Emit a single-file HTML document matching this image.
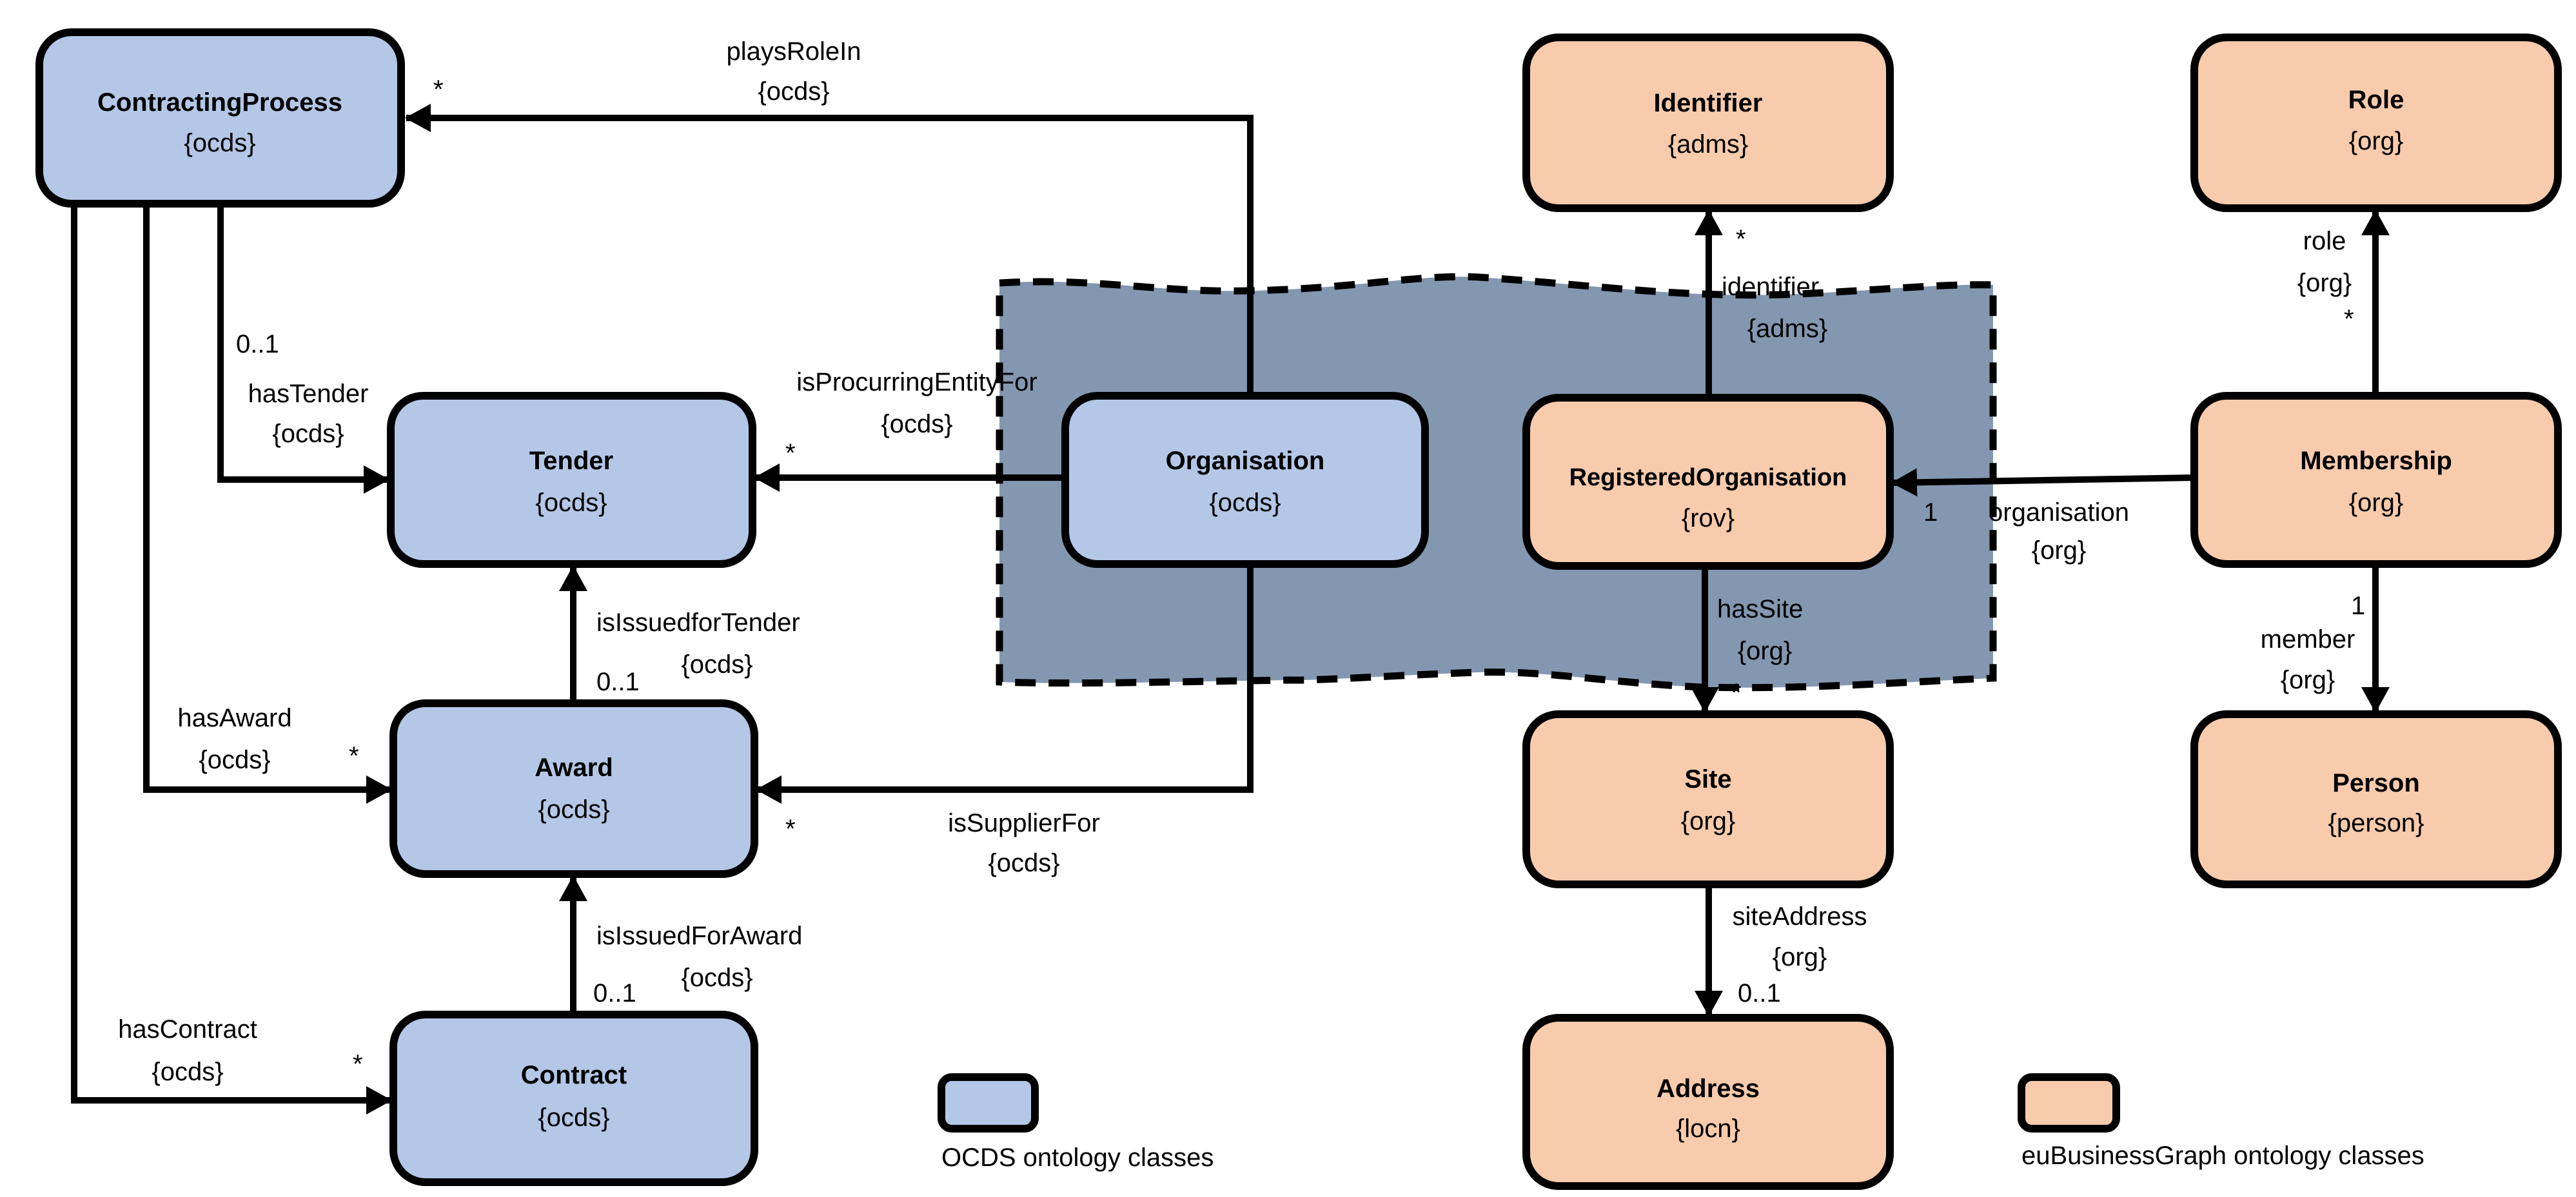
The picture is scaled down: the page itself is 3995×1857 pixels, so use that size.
<!DOCTYPE html>
<html><head><meta charset="utf-8"><style>
html,body{margin:0;padding:0;background:#fff}
svg{display:block}
text{font-family:"Liberation Sans",sans-serif;font-size:40px;fill:#000;dominant-baseline:central}
.b{font-weight:bold}
</style></head><body>
<svg width="3995" height="1857" viewBox="0 0 3995 1857" xmlns="http://www.w3.org/2000/svg">
<defs>
<marker id="a" markerUnits="userSpaceOnUse" markerWidth="40" markerHeight="44" refX="38" refY="22" orient="auto">
<path d="M0,0 L40,22 L0,44 Z" fill="#000"/></marker>
</defs>
<!-- grouping region -->
<path d="M1550,439 C1700,430 1800,455 1939,451 C2100,448 2200,425 2293,430 C2450,440 2600,462 2765,457 C2900,452 3000,440 3091,442 L3091,1052 C2950,1058 2800,1070 2638,1066 C2500,1060 2400,1040 2293,1043 C2150,1048 2050,1056 2000,1055 C1800,1058 1650,1062 1550,1058 Z" fill="#8497b0" stroke="#000" stroke-width="11" stroke-dasharray="32 20"/>
<g stroke="#000" stroke-width="10" fill="none">
<!-- playsRoleIn -->
<polyline points="1939,614 1939,183 630,183" marker-end="url(#a)"/>
<!-- hasTender -->
<polyline points="342,316 342,744 602,744" marker-end="url(#a)"/>
<!-- hasAward -->
<polyline points="227,316 227,1225 606,1225" marker-end="url(#a)"/>
<!-- hasContract -->
<polyline points="115,316 115,1707 606,1707" marker-end="url(#a)"/>
<!-- isProcuringEntityFor -->
<line x1="1652" y1="741" x2="1171" y2="741" marker-end="url(#a)"/>
<!-- isSupplierFor -->
<polyline points="1939,875 1939,1225 1174,1225" marker-end="url(#a)"/>
<!-- isIssuedforTender -->
<line x1="889" y1="1091" x2="889" y2="879" marker-end="url(#a)"/>
<!-- isIssuedForAward -->
<line x1="889" y1="1574" x2="889" y2="1360" marker-end="url(#a)"/>
<!-- identifier -->
<line x1="2650" y1="617" x2="2650" y2="327" marker-end="url(#a)"/>
<!-- role -->
<line x1="3684" y1="614" x2="3684" y2="327" marker-end="url(#a)"/>
<!-- organisation -->
<line x1="3403" y1="741" x2="2935" y2="749" marker-end="url(#a)"/>
<!-- hasSite -->
<line x1="2644" y1="878" x2="2644" y2="1104" marker-end="url(#a)"/>
<!-- member -->
<line x1="3684" y1="875" x2="3684" y2="1104" marker-end="url(#a)"/>
<!-- siteAddress -->
<line x1="2650" y1="1372" x2="2650" y2="1575" marker-end="url(#a)"/>
</g>
<g stroke="#000" stroke-width="12">
<rect x="61" y="50" width="561" height="266" rx="50" fill="#b4c7e7"/>
<rect x="606" y="614" width="561" height="261" rx="50" fill="#b4c7e7"/>
<rect x="1652" y="614" width="558" height="261" rx="50" fill="#b4c7e7"/>
<rect x="610" y="1091" width="560" height="265" rx="50" fill="#b4c7e7"/>
<rect x="610" y="1574" width="560" height="260" rx="50" fill="#b4c7e7"/>
<rect x="2367" y="58" width="564" height="265" rx="50" fill="#f8cbad"/>
<rect x="3403" y="58" width="564" height="265" rx="50" fill="#f8cbad"/>
<rect x="2367" y="617" width="564" height="261" rx="50" fill="#f8cbad"/>
<rect x="3403" y="614" width="564" height="261" rx="50" fill="#f8cbad"/>
<rect x="2367" y="1108" width="564" height="264" rx="50" fill="#f8cbad"/>
<rect x="3403" y="1108" width="564" height="264" rx="50" fill="#f8cbad"/>
<rect x="2367" y="1579" width="564" height="261" rx="50" fill="#f8cbad"/>
<rect x="1460" y="1671" width="145" height="80" rx="16" fill="#b4c7e7"/>
<rect x="3135" y="1671" width="147" height="80" rx="16" fill="#f8cbad"/>
</g>
<g text-anchor="middle">
<text class="b" x="341" y="159">ContractingProcess</text><text x="341" y="222">{ocds}</text>
<text class="b" x="886" y="715">Tender</text><text x="886" y="780">{ocds}</text>
<text class="b" x="1931" y="715">Organisation</text><text x="1931" y="780">{ocds}</text>
<text class="b" x="890" y="1191">Award</text><text x="890" y="1256">{ocds}</text>
<text class="b" x="890" y="1668">Contract</text><text x="890" y="1734">{ocds}</text>
<text class="b" x="2649" y="160">Identifier</text><text x="2649" y="224">{adms}</text>
<text class="b" x="3685" y="155">Role</text><text x="3685" y="219">{org}</text>
<text class="b" x="2649" y="741" style="font-size:38px">RegisteredOrganisation</text><text x="2649" y="804">{rov}</text>
<text class="b" x="3685" y="715">Membership</text><text x="3685" y="780">{org}</text>
<text class="b" x="2649" y="1209">Site</text><text x="2649" y="1274">{org}</text>
<text class="b" x="3685" y="1215">Person</text><text x="3685" y="1277">{person}</text>
<text class="b" x="2649" y="1689">Address</text><text x="2649" y="1751">{locn}</text>

<text x="1231" y="80">playsRoleIn</text><text x="1231" y="142">{ocds}</text>
<text x="478" y="611">hasTender</text><text x="478" y="673">{ocds}</text>
<text x="1422" y="593">isProcurringEntityFor</text><text x="1422" y="658">{ocds}</text>
<text x="1112" y="1031">{ocds}</text>
<text x="364" y="1114">hasAward</text><text x="364" y="1179">{ocds}</text>
<text x="1588" y="1277">isSupplierFor</text><text x="1588" y="1339">{ocds}</text>
<text x="1112" y="1517">{ocds}</text>
<text x="291" y="1597">hasContract</text><text x="291" y="1663">{ocds}</text>
<text x="2772" y="510">{adms}</text>
<text x="3605" y="374">role</text><text x="3605" y="439">{org}</text>
<text x="3193" y="795">organisation</text><text x="3193" y="854">{org}</text>
<text x="2737" y="1010">{org}</text>
<text x="3579" y="992">member</text><text x="3579" y="1055">{org}</text>
<text x="2791" y="1422">siteAddress</text><text x="2791" y="1485">{org}</text>
</g>
<g>
<text x="672" y="139">*</text>
<text x="366" y="534">0..1</text>
<text x="1218" y="703">*</text>
<text x="925" y="966">isIssuedforTender</text>
<text x="925" y="1058">0..1</text>
<text x="541" y="1173">*</text>
<text x="1218" y="1286">*</text>
<text x="925" y="1452">isIssuedForAward</text>
<text x="920" y="1541">0..1</text>
<text x="547" y="1651">*</text>
<text x="1460" y="1796">OCDS ontology classes</text>
<text x="2692" y="371">*</text>
<text x="2670" y="445">identifier</text>
<text x="3635" y="495">*</text>
<text x="2983" y="795">1</text>
<text x="2663" y="945">hasSite</text>
<text x="2685" y="1075">*</text>
<text x="3646" y="940">1</text>
<text x="2695" y="1541">0..1</text>
<text x="3135" y="1793">euBusinessGraph  ontology classes</text>
</g>
</svg>
</body></html>
